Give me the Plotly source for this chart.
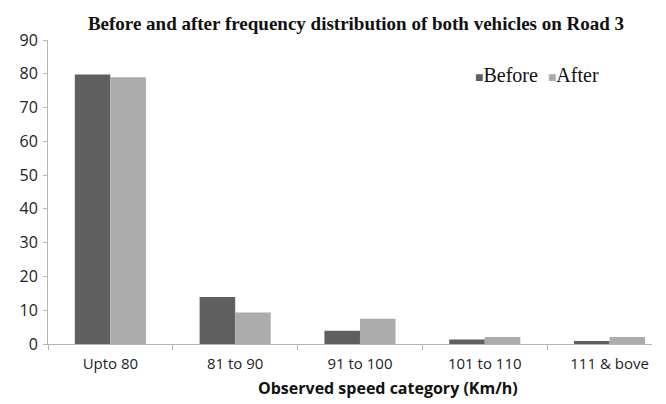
import plotly.graph_objects as go

categories = ["Upto 80", "81 to 90", "91 to 100", "101 to 110", "111 &amp; bove"]
before = [79.8, 13.9, 3.9, 1.3, 0.9]
after = [79.0, 9.3, 7.5, 2.1, 2.1]
y_ticks = [0, 10, 20, 30, 40, 50, 60, 70, 80, 90]
series_names = ["Before", "After"]
series_colors = ["#5f5f5f", "#acacac"]

# the page body has an 8px margin, so the figure is sized to fit the window
W, H = 658, 396
ML, MR, MT, MB = 34, 14, 32, 60
PW = W - ML - MR
PH = H - MT - MB

fig = go.Figure()
for name, vals, col in zip(series_names, [before, after], series_colors):
    fig.add_trace(go.Bar(x=categories, y=vals, name=name, showlegend=False,
                         marker=dict(color=col, line=dict(width=0))))

fig.update_layout(
    width=W, height=H,
    margin=dict(l=ML, r=MR, t=MT, b=MB),
    paper_bgcolor="white", plot_bgcolor="white",
    barmode="group", bargap=0.43, bargroupgap=0,
    title=dict(text="<b>Before and after frequency distribution of both vehicles on Road 3</b>",
               font=dict(family="Liberation Serif", size=19, color="#111"),
               x=348 / W, xanchor="center", y=1 - 15 / H, yanchor="middle"),
    font=dict(family="Open Sans", size=13, color="#222"),
)
fig.update_xaxes(
    type="category", range=[-0.5, 4.34],
    showline=True, linecolor="#b5b5b5", linewidth=1,
    ticks="outside", tickson="boundaries", ticklen=5, tickcolor="#b5b5b5",
    tickfont=dict(family="Open Sans", size=15, color="#222"),
    ticklabelstandoff=6,
    showgrid=False, zeroline=False,
)
fig.update_yaxes(
    range=[0, 90], tickvals=y_ticks,
    showline=True, linecolor="#b5b5b5", linewidth=1,
    ticks="outside", ticklen=4, tickcolor="#b5b5b5",
    tickfont=dict(family="Open Sans", size=16, color="#222"),
    ticklabelstandoff=2,
    showgrid=False, zeroline=False,
)
fig.add_annotation(text="<b>Observed speed category (Km/h)</b>", xref="paper", yref="paper",
                   x=(377 - ML) / PW, y=(PH - (380 - MT)) / PH, xanchor="center", yanchor="middle",
                   showarrow=False, font=dict(family="Open Sans", size=16, color="#111"))

legend_text = "&nbsp;&nbsp;".join(
    f"<span style='color:{c};font-size:14px'>■</span>{n}"
    for n, c in zip(series_names, series_colors)
)
fig.add_annotation(text=legend_text, xref="paper", yref="paper",
                   x=(463 - ML) / PW, y=(PH - (67 - MT)) / PH, xanchor="left", yanchor="middle",
                   showarrow=False, font=dict(family="Liberation Serif", size=20, color="#111"))

fig.write_html("out.html")
